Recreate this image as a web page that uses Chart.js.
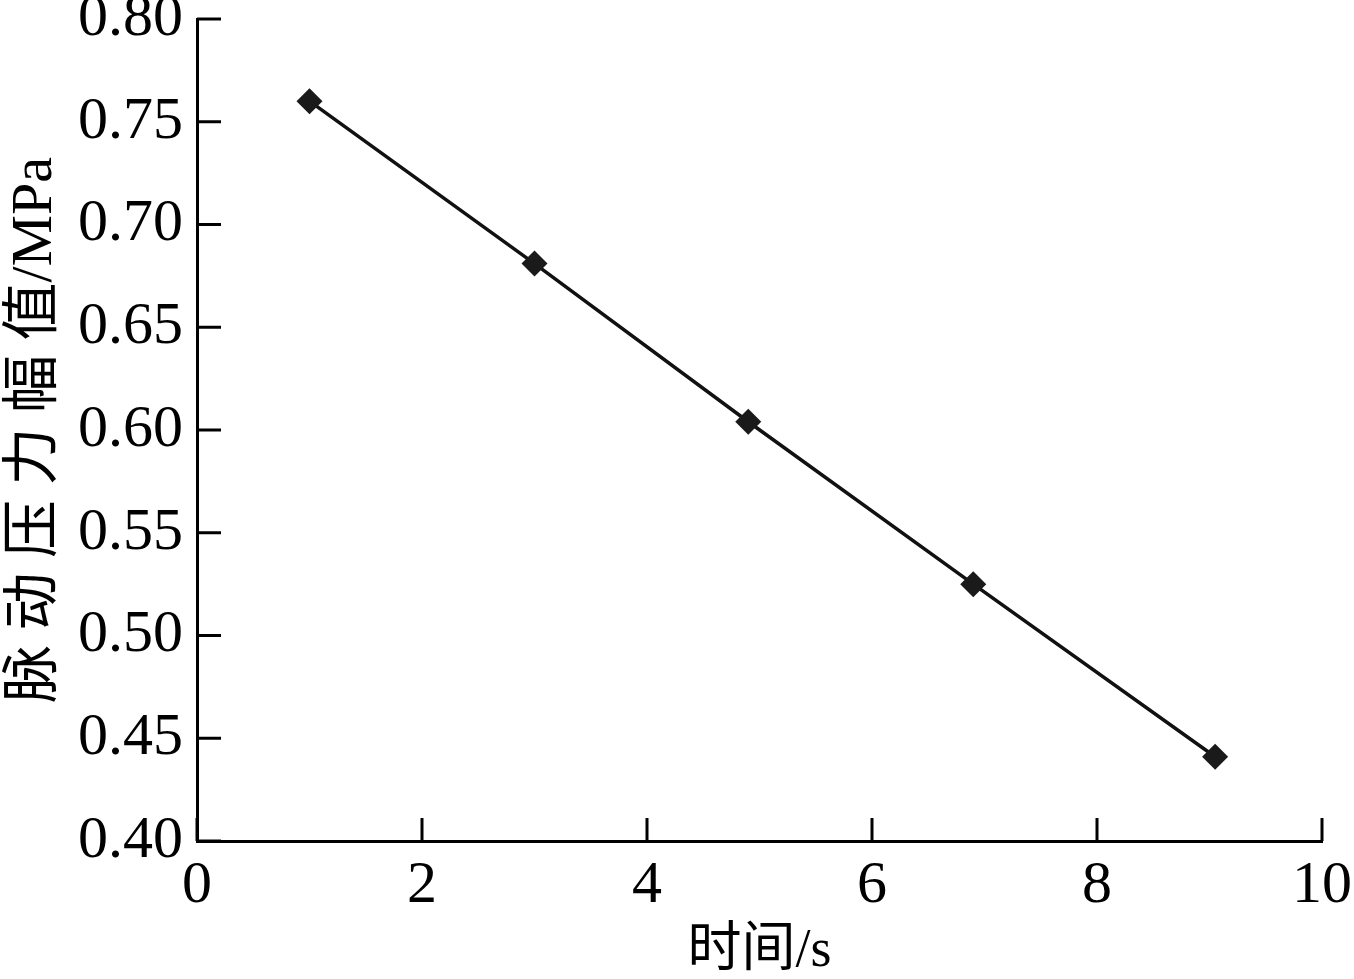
<!DOCTYPE html>
<html>
<head>
<meta charset="utf-8">
<script src="https://cdn.jsdelivr.net/npm/chart.js@4/dist/chart.umd.min.js"></script>
<style>
  html, body { margin: 0; padding: 0; background: #fff; }
  #wrap { width: 1354px; height: 979px; }
</style>
</head>
<body>
<div id="wrap"><canvas id="pulseChart" width="1354" height="979"></canvas></div>
<script>
// values
var times = [1.0, 3.0, 4.9, 6.9, 9.05];
var amplitudes = [0.760, 0.681, 0.604, 0.525, 0.441];
var xTicks = [0, 2, 4, 6, 8, 10];
var yTicks = [0.40, 0.45, 0.50, 0.55, 0.60, 0.65, 0.70, 0.75, 0.80];

var serif = '"Liberation Serif", "Times New Roman", "Noto Sans CJK SC", serif';

var points = times.map(function(t, i) { return { x: t, y: amplitudes[i] }; });

// short ticks drawn inward, from the scales' own tick positions
var inwardTicks = {
    id: 'inwardTicks',
    afterDatasetsDraw: function(chart) {
        var ctx = chart.ctx;
        var area = chart.chartArea;
        var xs = chart.scales.x, ys = chart.scales.y;
        ctx.save();
        ctx.strokeStyle = '#000';
        ctx.lineWidth = 3;
        xs.ticks.forEach(function(t, i) {
            var px = xs.getPixelForTick(i);
            ctx.beginPath();
            ctx.moveTo(px, area.bottom);
            ctx.lineTo(px, area.bottom - 23);
            ctx.stroke();
        });
        ys.ticks.forEach(function(t, i) {
            var py = ys.getPixelForTick(i);
            ctx.beginPath();
            ctx.moveTo(area.left, py);
            ctx.lineTo(area.left + 24, py);
            ctx.stroke();
        });
        ctx.restore();
    }
};

new Chart(document.getElementById('pulseChart'), {
    type: 'scatter',
    data: {
        datasets: [{
            data: points,
            showLine: true,
            borderColor: '#111',
            borderWidth: 3.5,
            backgroundColor: '#1a1a1a',
            pointStyle: 'rectRot',
            pointRadius: 13,
            pointHoverRadius: 13,
            pointBorderWidth: 0,
            tension: 0
        }]
    },
    options: {
        responsive: false,
        animation: false,
        devicePixelRatio: 1,
        layout: { padding: { top: 19, right: 32, left: 0, bottom: 0 } },
        plugins: {
            legend: { display: false },
            tooltip: { enabled: false }
        },
        scales: {
            x: {
                type: 'linear',
                min: 0,
                max: 10,
                afterBuildTicks: function(scale) {
                    scale.ticks = xTicks.map(function(v) { return { value: v }; });
                },
                grid: { display: false, drawTicks: false },
                border: { display: true, color: '#000', width: 3 },
                ticks: {
                    padding: 9,
                    color: '#000',
                    maxRotation: 0,
                    font: { family: serif, size: 60 },
                    callback: function(v) { return String(v); }
                },
                title: {
                    display: true,
                    text: '时间/s',
                    color: '#000',
                    font: { family: serif, size: 54, lineHeight: 1 },
                    padding: { top: 0, bottom: 0 }
                },
                afterFit: function(scale) {
                    scale.height = 138;
                    scale.paddingLeft = 0;
                    scale.paddingRight = 0;
                }
            },
            y: {
                type: 'linear',
                min: 0.40,
                max: 0.80,
                afterBuildTicks: function(scale) {
                    scale.ticks = yTicks.map(function(v) { return { value: v }; });
                },
                grid: { display: false, drawTicks: false },
                border: { display: true, color: '#000', width: 3 },
                ticks: {
                    padding: 14,
                    color: '#000',
                    font: { family: serif, size: 60 },
                    callback: function(v) { return Number(v).toFixed(2); }
                },
                title: {
                    display: true,
                    text: '脉 动 压 力 幅 值/MPa',
                    color: '#000',
                    font: { family: serif, size: 58, lineHeight: 1 },
                    padding: { top: 7, bottom: 0 }
                },
                afterFit: function(scale) {
                    scale.width = 197;
                    scale.paddingTop = 0;
                    scale.paddingBottom = 0;
                }
            }
        }
    },
    plugins: [inwardTicks]
});
</script>
</body>
</html>
